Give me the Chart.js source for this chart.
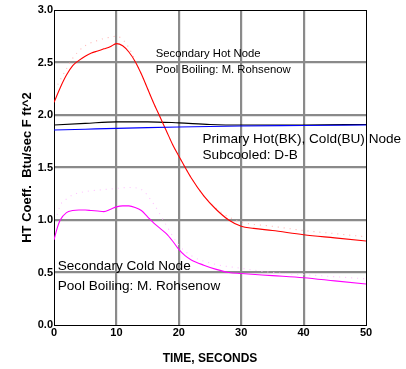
<!DOCTYPE html>
<html>
<head>
<meta charset="utf-8">
<script src="https://cdn.jsdelivr.net/npm/chart.js@4/dist/chart.umd.min.js"></script>
<style>
    html, body { margin: 0; padding: 0; background: #fff; }
    #wrap { width: 406px; height: 369px; }
</style>
</head>
<body>
<div id="wrap"><canvas id="chart" width="406" height="369"></canvas></div>
<script>
// time axis, seconds
const xTicks = [0, 10, 20, 30, 40, 50]
const yTicks = [0, 0.5, 1.0, 1.5, 2.0, 2.5, 3.0]

// secondary hot node (red)
const hotTime = [0, 1, 2, 3, 4, 5, 6, 7, 8, 9, 10, 11, 12, 13, 14, 15, 16, 17, 18, 19, 20, 22, 24, 26, 28, 30, 32, 35, 40, 45, 50]
const hotVals = [2.12, 2.26, 2.38, 2.47, 2.52, 2.56, 2.59, 2.61, 2.63, 2.65, 2.68, 2.66, 2.60, 2.51, 2.39, 2.25, 2.11, 1.98, 1.85, 1.72, 1.61, 1.40, 1.23, 1.10, 1.00, 0.94, 0.92, 0.90, 0.86, 0.83, 0.80]

// faint dotted trace above the hot node
const hotDotTime = [0.6, 2, 3, 4, 5, 6, 7, 8, 9, 10, 11, 12, 13, 14, 15, 16, 17, 18, 19, 20, 22, 24, 26, 28, 30, 35, 40, 45, 50]
const hotDotVals = [2.29, 2.44, 2.54, 2.61, 2.66, 2.69, 2.71, 2.73, 2.74, 2.75, 2.72, 2.64, 2.52, 2.39, 2.25, 2.11, 1.98, 1.85, 1.72, 1.61, 1.40, 1.23, 1.11, 1.03, 0.98, 0.94, 0.90, 0.87, 0.84]

// secondary cold node (magenta)
const coldTime = [0, 0.5, 1, 2, 3, 4, 5, 6, 7, 8, 9, 10, 11, 12, 13, 14, 15, 16, 17, 18, 19, 20, 21, 22, 24, 26, 28, 30, 35, 40, 45, 50]
const coldVals = [0.81, 0.92, 1.00, 1.07, 1.09, 1.095, 1.095, 1.09, 1.085, 1.08, 1.10, 1.125, 1.135, 1.135, 1.12, 1.09, 1.03, 0.97, 0.92, 0.87, 0.80, 0.72, 0.66, 0.62, 0.57, 0.53, 0.50, 0.49, 0.47, 0.45, 0.42, 0.39]

const coldDotTime = [0.5, 1, 2, 3, 5, 8, 10, 12, 14, 16, 18, 20, 22, 25, 30, 35, 40, 45, 50]
const coldDotVals = [1.05, 1.14, 1.20, 1.24, 1.27, 1.29, 1.30, 1.31, 1.29, 1.15, 0.95, 0.76, 0.66, 0.59, 0.54, 0.50, 0.48, 0.46, 0.44]

// primary hot (black) and cold (blue) nodes
const primTime = [0, 5, 10, 15, 20, 25, 30, 40, 50]
const primHotVals = [1.905, 1.92, 1.935, 1.935, 1.925, 1.91, 1.905, 1.905, 1.91]
const primColdVals = [1.857, 1.865, 1.873, 1.88, 1.886, 1.891, 1.895, 1.90, 1.905]

// annotations, anchored in data units [x, baseline y]
const notes = [
    { text: 'Secondary Hot Node', x: 16.3, y: 2.55, size: 11.3 },
    { text: 'Pool Boiling: M. Rohsenow', x: 16.3, y: 2.40, size: 11.3 },
    { text: 'Primary Hot(BK), Cold(BU) Node', x: 23.8, y: 1.73, size: 13.6 },
    { text: 'Subcooled: D-B', x: 23.8, y: 1.58, size: 13.6 },
    { text: 'Secondary Cold Node', x: 0.6, y: 0.525, size: 13.6 },
    { text: 'Pool Boiling: M. Rohsenow', x: 0.6, y: 0.33, size: 13.6 }
]

const pts = (xs, ys) => xs.map((x, i) => ({ x: x, y: ys[i] }))

const FONT = '"Liberation Sans", Arial, Helvetica, sans-serif'

// black frame round the plot, then the text notes on top of the curves
const framePlugin = {
    id: 'frame',
    beforeDatasetsDraw(chart) {
        const c = chart.ctx, a = chart.chartArea
        c.save()
        c.strokeStyle = '#000'
        c.lineWidth = 1
        c.strokeRect(Math.round(a.left) + 0.5, Math.round(a.top) + 0.5, Math.round(a.right - a.left), Math.round(a.bottom - a.top))
        c.restore()
    }
}

const notesPlugin = {
    id: 'notes',
    afterDatasetsDraw(chart) {
        const c = chart.ctx, sx = chart.scales.x, sy = chart.scales.y
        c.save()
        c.fillStyle = '#000'
        c.textAlign = 'left'
        c.textBaseline = 'alphabetic'
        notes.forEach(n => {
            c.font = n.size + 'px ' + FONT
            c.fillText(n.text, sx.getPixelForValue(n.x), sy.getPixelForValue(n.y))
        })
        c.restore()
    }
}

const isEdge = (ctx, a, b) => ctx.tick && (ctx.tick.value === a || ctx.tick.value === b)
const gridColor = (a, b) => ctx => isEdge(ctx, a, b) ? '#000' : '#8a8a8a'
const gridWidth = (a, b) => ctx => isEdge(ctx, a, b) ? 1 : 2.2

const line = (data, color, extra) => Object.assign({
    data: data,
    borderColor: color,
    borderWidth: 1.1,
    pointRadius: 0,
    fill: false,
    cubicInterpolationMode: 'monotone'
}, extra || {})

new Chart(document.getElementById('chart'), {
    type: 'line',
    data: {
        datasets: [
            line(pts(hotDotTime, hotDotVals), '#ffb4b4', { borderDash: [1, 5], order: 5 }),
            line(pts(coldDotTime, coldDotVals), '#ffc0ff', { borderDash: [1, 5], order: 5 }),
            line(pts(primTime, primHotVals), '#000000', { order: 2 }),
            line(pts(primTime, primColdVals), '#0000ff', { order: 1 }),
            line(pts(hotTime, hotVals), '#ff0000', { order: 1 }),
            line(pts(coldTime, coldVals), '#ff00ff', { order: 1 })
        ]
    },
    options: {
        responsive: false,
        animation: false,
        layout: { padding: { top: 10, right: 40, left: 0, bottom: 0 } },
        plugins: { legend: { display: false }, tooltip: { enabled: false } },
        scales: {
            x: {
                type: 'linear',
                min: 0,
                max: 50,
                afterBuildTicks: s => { s.ticks = xTicks.map(v => ({ value: v })) },
                afterFit: s => { s.height = 44 },
                ticks: {
                    color: '#000',
                    padding: 1,
                    font: { family: FONT, size: 11, weight: 'bold' },
                    maxRotation: 0
                },
                grid: { color: gridColor(0, 50), lineWidth: gridWidth(0, 50), drawTicks: false },
                border: { color: '#000', width: 1 },
                title: {
                    display: true,
                    text: 'TIME, SECONDS',
                    color: '#000',
                    font: { family: FONT, size: 12, weight: 'bold' },
                    padding: { top: 0, bottom: 3 }
                }
            },
            y: {
                min: 0,
                max: 3,
                afterBuildTicks: s => { s.ticks = yTicks.map(v => ({ value: v })) },
                afterFit: s => { s.width = 54 },
                ticks: {
                    color: '#000',
                    padding: 1,
                    font: { family: FONT, size: 11, weight: 'bold' },
                    callback: v => v.toFixed(1)
                },
                grid: { color: gridColor(0, 3), lineWidth: gridWidth(0, 3), drawTicks: false },
                border: { color: '#000', width: 1 },
                title: {
                    display: true,
                    text: 'HT Coeff.  Btu/sec F ft^2',
                    color: '#000',
                    font: { family: FONT, size: 13, weight: 'bold' },
                    padding: { top: 20, bottom: 0 }
                }
            }
        }
    },
    plugins: [framePlugin, notesPlugin]
})
</script>
</body>
</html>
